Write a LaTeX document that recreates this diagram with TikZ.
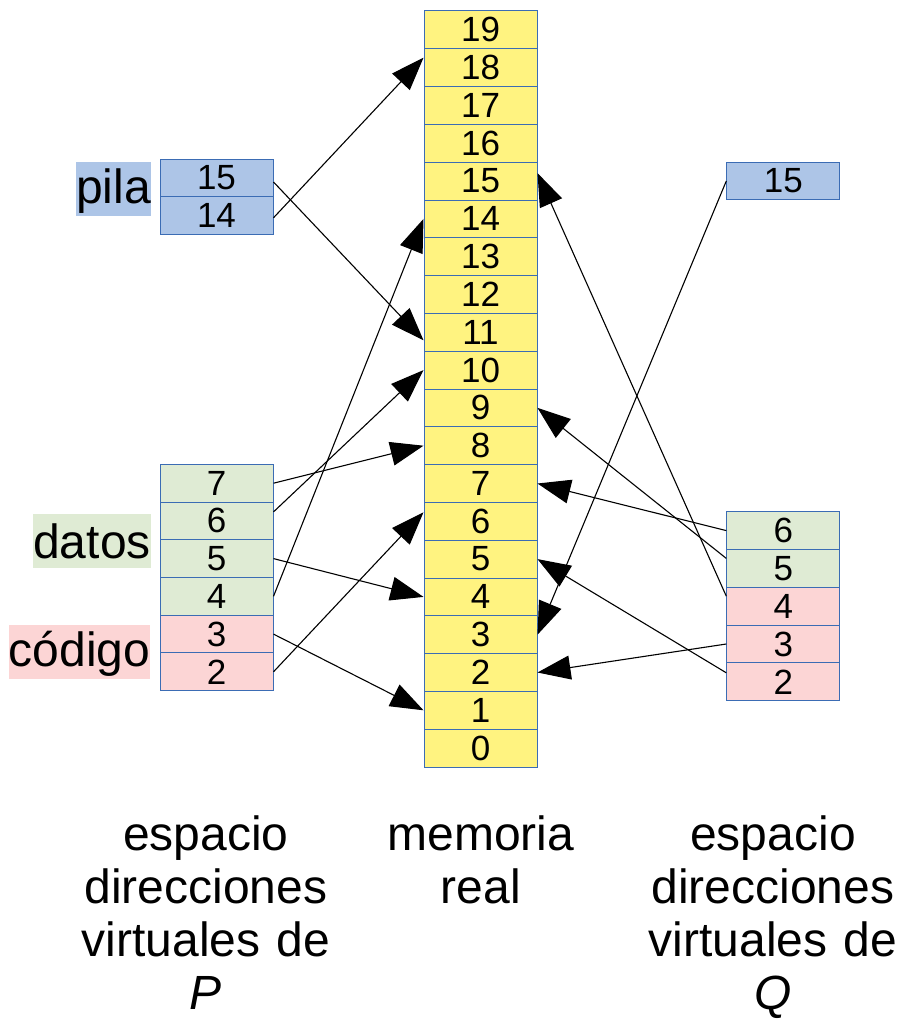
\documentclass[tikz,border=0pt]{standalone}
\usepackage{fontspec}
\setmainfont{Liberation Sans}
\usetikzlibrary{arrows.meta,calc}
\definecolor{bord}{HTML}{3B6CB4}
\definecolor{yel}{HTML}{FFF380}
\definecolor{blu}{HTML}{ADC5E7}
\definecolor{grn}{HTML}{DFEBD4}
\definecolor{rd}{HTML}{FCD5D5}
\begin{document}
\begin{tikzpicture}[x=1pt,y=-1pt,
  cell/.style={draw=bord, line width=1pt, minimum width=113pt, minimum height=37.8pt, inner sep=0pt, font=\fontsize{35}{40}\selectfont},
  conn/.style={line width=1.1pt, -{Triangle[length=33pt,width=24pt]}},
  lbl/.style={inner sep=0pt, anchor=base, font=\fontsize{48}{53}\selectfont},
  caption/.style={inner sep=0pt, anchor=base, text width=260pt, align=center, font=\fontsize{48}{53}\selectfont}]
\useasboundingbox (0,0) rectangle (899,1019);
% memory
\foreach \i in {0,...,19}
  \node[cell, fill=yel] (m\i) at (480.5,{748.1-37.8*\i}) {\i};
% P
\node[cell, fill=blu] (p15) at (216.5,178) {15};
\node[cell, fill=blu] (p14) at (216.5,215.8) {14};
\node[cell, fill=grn] (p7) at (216.5,483.2) {7};
\node[cell, fill=grn] (p6) at (216.5,520.9) {6};
\node[cell, fill=grn] (p5) at (216.5,558.6) {5};
\node[cell, fill=grn] (p4) at (216.5,596.3) {4};
\node[cell, fill=rd] (p3) at (216.5,634.1) {3};
\node[cell, fill=rd] (p2) at (216.5,671.8) {2};
% Q
\node[cell, fill=blu] (q15) at (783.3,181) {15};
\node[cell, fill=grn] (q6) at (783.3,530.6) {6};
\node[cell, fill=grn] (q5) at (783.3,568.4) {5};
\node[cell, fill=rd] (q4) at (783.3,606.2) {4};
\node[cell, fill=rd] (q3) at (783.3,644) {3};
\node[cell, fill=rd] (q2) at (783.3,681.8) {2};
% segment labels
\node[lbl, fill=blu, minimum width=75pt, text height=41pt, text depth=12.7pt] (pila) at (113.5,203) {pila};
\node[lbl, fill=grn, minimum width=118pt, text height=44.3pt, text depth=9.4pt] (datos) at (92,558.3) {datos};
\node[lbl, fill=rd, minimum width=141pt, text height=41.7pt, text depth=12pt] (codigo) at (79.5,666.7) {código};
% captions
\node[caption] (capP) at (206,850) {espacio\\direcciones\\virtuales de\\\textit{P}};
\node[caption] (capM) at (481,850) {memoria\\real};
\node[caption] (capQ) at (773,850) {espacio\\direcciones\\virtuales de\\\textit{Q}};
% arrows P
\draw[conn] ($(p15.east)+(0,4)$) -- ($(m11.west)+(0,8)$);
\draw[conn] ($(p14.east)+(0,2)$) -- ($(m18.west)+(0,-10)$);
\draw[conn] (p7.east) -- (m8.west);
\draw[conn] ($(p6.east)+(0,-9)$) -- (m10.west);
\draw[conn] (p5.east) -- (m4.west);
\draw[conn] (p4.east) -- (m14.west);
\draw[conn] (p3.east) -- (m1.west);
\draw[conn] (p2.east) -- ($(m6.west)+(0,-9)$);
% arrows Q
\draw[conn] (q15.west) -- (m3.east);
\draw[conn] (q6.west) -- (m7.east);
\draw[conn] ($(q5.west)+(0,-10)$) -- (m9.east);
\draw[conn] ($(q4.west)+(0,-10)$) -- ($(m15.east)+(0,-8)$);
\draw[conn] (q3.west) -- (m2.east);
\draw[conn] ($(q2.west)+(0,-9)$) -- (m5.east);
\end{tikzpicture}
\end{document}
